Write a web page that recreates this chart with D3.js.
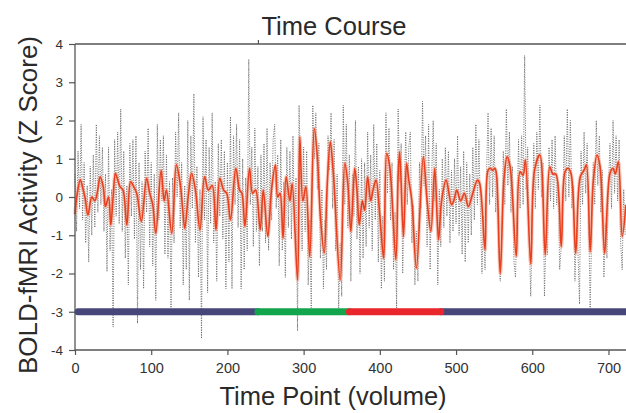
<!DOCTYPE html>
<html><head><meta charset="utf-8">
<script src="https://cdn.jsdelivr.net/npm/d3@7"></script>
<style>body{margin:0;background:#fff}svg{display:block}</style>
</head><body>
<svg id="c" width="626" height="413"></svg>
<script>
// ---- data ----
const grayStep = 2; // gray series sampled every 2 volumes, starting at 0
const grayValues = [
 0.6,-0.9,1.2,-0.3,1.9,-0.6,0.9,-1.2,0.3,-1.7,
 0.8,-1.0,1.1,-0.8,1.9,-0.4,1.6,-0.2,1.3,-0.9,
 0.6,-1.95,1.3,-1.4,0.2,-3.4,1.5,-0.5,1.7,-0.7,
 2.3,-0.9,1.2,-1.6,0.3,-2.3,1.4,-0.5,1.5,-1.1,
 1.6,-3.3,0.9,-1.9,0.4,-2.4,1.2,-0.4,1.8,-1.3,
 0.9,-1.8,0.6,-2.7,1.9,-0.6,1.5,-0.1,1.6,-1.5,
 1.1,-1.6,0.4,-2.9,0.5,-1.2,1.7,0.0,2.2,-0.8,
 0.9,-2.3,0.3,-1.9,2.0,-2.7,1.6,-0.3,2.7,-1.2,
 0.8,-2.1,0.2,-3.7,2.1,-0.6,1.5,-2.5,1.3,-0.7,
 2.2,-1.2,0.4,-2.2,1.4,-0.5,1.5,-1.1,1.2,-2.4,
 0.9,-1.7,2.1,-2.4,1.6,-0.2,1.9,-0.8,1.5,-2.4,
 1.0,-1.9,0.5,-1.4,3.6,-0.2,1.3,-1.3,1.8,-0.9,
 0.8,-1.8,1.1,-0.9,1.4,-1.2,1.8,-1.4,0.9,-0.6,
 1.5,1.9,-0.3,1.1,-1.8,1.5,-1.4,0.4,-2.1,1.3,
 -0.8,1.2,-1.1,1.6,-0.9,0.5,-3.5,2.4,0.6,-1.4,
 1.3,-0.9,1.2,-2.3,-0.6,-2.9,2.4,1.0,2.2,0.2,
 1.4,-1.6,0.2,-2.4,-0.6,-1.9,1.6,0.7,2.2,-0.3,
 1.5,-1.4,0.6,-2.9,-1.2,-2.6,2.4,-0.2,1.9,-0.8,
 1.1,-2.2,0.6,-0.5,2.0,-1.1,0.8,-2.0,1.0,-1.6,
 0.9,-1.3,1.7,-0.8,1.1,-1.4,1.9,-0.6,1.4,-1.7,
 0.7,-2.4,-0.5,-2.2,2.2,0.1,1.8,-0.6,0.9,-1.9,
 -0.4,-2.9,2.3,0.4,1.4,-2.0,0.1,1.7,-0.2,1.3,
 1.7,-1.2,-0.2,-2.3,-0.9,-2.2,0.9,-0.3,2.5,0.3,
 1.6,-1.3,1.9,-1.9,0.5,2.0,-0.1,1.4,-2.3,0.2,
 -1.3,1.0,-0.8,1.3,-0.5,1.2,-1.2,0.7,-0.9,1.0,
 -0.7,1.6,-1.0,0.8,-1.5,1.2,-1.7,0.9,-1.2,0.6,
 -1.0,1.3,-0.6,1.9,-0.2,1.5,-0.4,-2.0,-0.5,-1.9,
 0.6,2.2,-0.2,1.8,0.0,1.6,-0.4,0.5,-1.6,-2.2,
 -0.9,1.2,-0.2,2.3,0.3,1.7,-0.4,0.8,-1.7,-2.1,
 -0.5,1.5,-0.3,1.6,-0.2,3.7,0.2,1.3,-1.1,-2.6,
 -0.8,1.4,-0.3,1.7,0.2,2.4,0.0,0.9,-2.6,-1.0,
 -1.5,1.3,-0.1,1.5,-0.3,1.6,-0.2,0.4,-1.9,-1.3,
 -0.4,1.6,-0.1,2.3,0.0,2.0,-0.3,0.3,-2.2,-0.8,
 -1.4,-2.8,1.2,-0.2,1.7,0.1,1.4,-0.6,-2.9,-0.9,
 0.9,-0.2,2.0,0.3,1.6,-0.4,0.7,-2.1,-0.7,-1.6,
 0.3,1.4,-0.3,2.0,0.1,1.6,-0.1,1.5,-1.2,-1.9,0.2,-1.0
];
const redTimes = [0,3,7,10,13,17,22,26,30,33,37,40,44,47,50,53,56,59,63,68,73,77,81,87,94,98,102,106,113,117,120,127,133,138,141,144,149,153,158,164,170,175,180,185,190,195,199,204,211,216,219,223,229,233,237,243,247,253,258,263,266,269,273,277,282,285,292,295,299,303,308,314,318,322,327,331,335,339,348,354,358,362,367,370,373,377,380,384,388,391,395,400,405,409,413,421,424,426,431,435,438,442,448,457,462,467,472,477,481,487,494,497,501,506,511,516,522,528,531,538,542,545,548,551,553,558,563,567,571,579,584,588,591,598,603,610,617,623,627,631,638,643,647,651,657,663,668,671,676,680,685,689,695,702,706,709,713,718,723];
const redValues = [-0.45,0.1,0.45,0.25,0.0,-0.47,0.0,-0.1,0.2,0.53,0.27,-0.25,0.0,-0.73,0.0,0.62,0.45,0.27,0.18,-0.73,0.4,0.27,0.1,-0.64,0.49,0.1,-0.2,-0.95,0.7,-0.1,0.18,-0.95,0.84,0.35,-0.25,-0.82,0.1,0.62,0.18,-0.86,0.53,0.18,0.3,-0.86,0.49,0.18,0.1,-0.6,0.75,0.18,0.1,-0.77,0.75,0.1,0.18,-0.86,0.18,-1.03,0.22,0.84,0.0,0.1,-1.08,0.53,-0.1,0.35,-2.17,1.57,-0.1,0.27,-1.56,1.79,1.05,-0.51,-1.46,0.35,1.44,0.62,-2.17,0.88,0.35,-0.9,0.75,0.18,-0.73,-0.1,-0.35,0.53,-0.1,0.18,0.44,-0.5,-1.6,1.14,0.79,-1.64,0.53,1.18,-1.04,0.88,0.44,-0.1,-1.86,1.05,-0.1,-0.9,0.75,-1.12,-0.1,0.44,-0.2,-0.1,0.18,-0.1,0.1,-0.25,0.1,0.44,0.35,-1.38,0.7,0.75,0.7,0.75,0.6,-2.0,0.5,1.05,0.79,-1.55,0.66,0.57,0.97,-1.75,0.7,1.1,-1.51,0.79,0.6,0.6,-1.3,0.66,0.75,0.6,-1.47,0.53,0.7,0.84,-1.43,0.4,1.1,0.79,-1.47,0.62,0.75,0.6,0.92,-1.03,-0.2];
const phaseStarts = [0,240,360,480];
const phaseEnds = [240,360,480,723];
const phaseColors = ["#47467a","#13a54b","#e8262b","#47467a"];
const phaseOrder = [0,3,1,2]; // drawing order so later phases overlap with round caps
const phaseLevel = -3;
const yTicks = [-4,-3,-2,-1,0,1,2,3,4];
const xTicks = [0,100,200,300,400,500,600,700];
const topTicks = [240];
const title = "Time Course";
const xLabel = "Time Point (volume)";
const yLabel = "BOLD-fMRI Activity (Z Score)";

// ---- drawing ----
const svg = d3.select("#c");
const font = "'Liberation Sans', Arial, Helvetica, sans-serif";
const x = d3.scaleLinear().domain([0,723]).range([75,626]);
const y = d3.scaleLinear().domain([-4,4]).range([350,44]);

const gray = grayValues.map((v,i)=>[i*grayStep, v]);
const red = redTimes.map((t,i)=>[t, redValues[i]]);

const g = svg.append("g");
g.append("path").datum(gray)
  .attr("d", d3.line().x(d=>x(d[0])).y(d=>y(d[1])))
  .attr("fill","none").attr("stroke","#666").attr("stroke-width",0.95)
  .attr("stroke-dasharray","1,1.4");

const redLine = d3.line().x(d=>x(d[0])).y(d=>y(d[1])).curve(d3.curveCatmullRom.alpha(0.5));
g.append("path").datum(red).attr("d", redLine)
  .attr("fill","none").attr("stroke","#f5a388").attr("stroke-width",3.6).attr("stroke-opacity",0.55);
g.append("path").datum(red).attr("d", redLine)
  .attr("fill","none").attr("stroke","#e8401f").attr("stroke-width",1.6);

// phase bar
phaseOrder.forEach(i=>{
  g.append("line")
    .attr("x1", x(phaseStarts[i]) + (i===0?3:0)).attr("x2", Math.min(x(phaseEnds[i]), 626))
    .attr("y1", y(phaseLevel)).attr("y2", y(phaseLevel))
    .attr("stroke", phaseColors[i]).attr("stroke-width",7).attr("stroke-linecap","round");
});

// axes
const axisColor = "#555";
const yAxis = svg.append("g").attr("transform","translate(75,0)")
  .call(d3.axisLeft(y).tickValues(yTicks).tickSize(6).tickPadding(6).tickFormat(d3.format("d")));
const xAxis = svg.append("g").attr("transform","translate(0,350)")
  .call(d3.axisBottom(x).tickValues(xTicks).tickSize(5).tickPadding(8).tickFormat(d3.format("d")));
const topAxis = svg.append("g").attr("transform","translate(0,44)")
  .call(d3.axisTop(x).tickValues(topTicks).tickSize(4).tickFormat(""));
[yAxis,xAxis,topAxis].forEach(a=>{
  a.select(".domain").attr("stroke",axisColor).attr("stroke-width",1.3);
  a.selectAll(".tick line").attr("stroke",axisColor).attr("stroke-width",1.2);
  a.selectAll("text").attr("fill","#333").style("font-family",font);
});
yAxis.selectAll("text").style("font-size","13.5px").text(d=> d<0 ? "-"+Math.abs(d) : d);
xAxis.selectAll("text").style("font-size","14.5px");
topAxis.select(".domain").attr("d","M75,0H626");
yAxis.select(".domain").attr("d","M0,44V350");
xAxis.select(".domain").attr("d","M75,0H626");

svg.append("text").attr("x",334).attr("y",35).attr("text-anchor","middle")
  .style("font-family",font).style("font-size","25.5px").attr("fill","#2a2a2a").text(title);
svg.append("text").attr("x",333).attr("y",405).attr("text-anchor","middle")
  .style("font-family",font).style("font-size","25.5px").attr("fill","#2a2a2a").text(xLabel);
svg.append("text").attr("transform","translate(37,205) rotate(-90)").attr("text-anchor","middle")
  .style("font-family",font).style("font-size","26px").attr("fill","#2a2a2a").text(yLabel);
</script>
</body></html>
